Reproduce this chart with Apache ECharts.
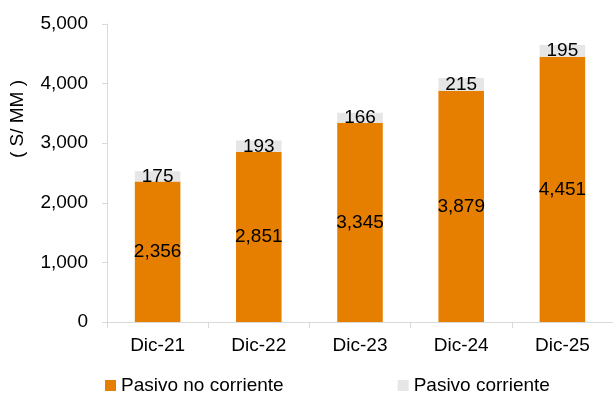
<!DOCTYPE html>
<html>
<head>
<meta charset="utf-8">
<script src="https://cdn.jsdelivr.net/npm/echarts@6/dist/echarts.min.js"></script>
<style>
  html, body { margin: 0; padding: 0; background: #fff; }
  #chart { width: 613px; height: 398px; }
</style>
</head>
<body>
<div id="chart"></div>
<script>
// datos (S/ MM)
var categorias = ['Dic-21', 'Dic-22', 'Dic-23', 'Dic-24', 'Dic-25'];
var pasivoNoCorriente = [2356, 2851, 3345, 3879, 4451];
var pasivoCorriente = [175, 193, 166, 215, 195];
var ejeY = { min: 0, max: 5000, interval: 1000 };

var fuente = 'Liberation Sans, Arial, sans-serif';
var fmt = function (v) { return v.toLocaleString('en-US'); };

var myChart = echarts.init(document.getElementById('chart'));
myChart.setOption({
    animation: false,
    textStyle: { fontFamily: fuente },
    grid: { left: 107, right: -12, top: 24, bottom: 76 },
    legend: {
        bottom: -2,
        left: 100,
        itemWidth: 11,
        itemHeight: 11,
        itemGap: 114,
        textStyle: { fontSize: 19, color: '#000', fontFamily: fuente },
        data: [
            { name: 'Pasivo no corriente', icon: 'rect' },
            { name: 'Pasivo corriente', icon: 'rect' }
        ]
    },
    graphic: [{
        type: 'text',
        x: 18,
        y: 119,
        rotation: Math.PI / 2,
        style: {
            text: '( S/ MM )', fontSize: 19, fill: '#000', fontFamily: fuente,
            align: 'center', verticalAlign: 'middle'
        }
    }],
    xAxis: {
        type: 'category',
        data: categorias,
        axisLine: { lineStyle: { color: '#d9d9d9' } },
        axisTick: { show: true, alignWithLabel: false, length: 6, lineStyle: { color: '#d9d9d9' } },
        axisLabel: { color: '#000', fontSize: 19, margin: 14 }
    },
    yAxis: {
        type: 'value',
        min: ejeY.min,
        max: ejeY.max,
        interval: ejeY.interval,
        splitLine: { show: false },
        axisLine: { show: true, lineStyle: { color: '#d9d9d9' } },
        axisTick: { show: true, length: 5, lineStyle: { color: '#d9d9d9' } },
        axisLabel: { color: '#000', fontSize: 19, margin: 19, formatter: fmt }
    },
    series: [
        {
            name: 'Pasivo no corriente',
            type: 'bar',
            stack: 'total',
            barWidth: '45%',
            itemStyle: { color: '#E67E00' },
            label: {
                show: true, position: 'inside', color: '#000', fontSize: 19,
                formatter: function (p) { return fmt(p.value); }
            },
            data: pasivoNoCorriente
        },
        {
            name: 'Pasivo corriente',
            type: 'bar',
            stack: 'total',
            barWidth: '45%',
            itemStyle: { color: '#E6E6E6' },
            label: {
                show: true, position: 'inside', color: '#000', fontSize: 19,
                formatter: function (p) { return fmt(p.value); }
            },
            data: pasivoCorriente
        }
    ]
});
</script>
</body>
</html>
